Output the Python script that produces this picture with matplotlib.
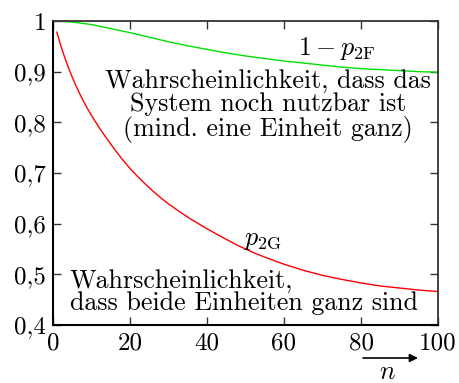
import matplotlib
matplotlib.use("Agg")
import matplotlib.pyplot as plt

plt.rcParams['font.family'] = 'serif'
plt.rcParams['font.serif'] = ['cmr10', 'DejaVu Serif']
plt.rcParams['mathtext.fontset'] = 'cm'
plt.rcParams['axes.unicode_minus'] = False
plt.rcParams['axes.formatter.use_mathtext'] = True

# Data
n_red = [1, 2, 3, 4, 5, 6, 7, 8, 9, 10, 12, 14, 16, 18, 20, 22, 24, 26, 28, 30,
         33, 36, 40, 44, 48, 52, 56, 60, 65, 70, 75, 80, 85, 90, 95, 100]
p2G = [0.978, 0.952, 0.929, 0.908, 0.889, 0.8715, 0.8555, 0.8405, 0.8265,
       0.8135, 0.7895, 0.7675, 0.7465, 0.727, 0.709, 0.693, 0.678, 0.664,
       0.651, 0.639, 0.623, 0.608, 0.590, 0.573, 0.557, 0.543, 0.531, 0.520,
       0.508, 0.498, 0.490, 0.483, 0.477, 0.473, 0.469, 0.466]

n_green = [0, 5, 10, 15, 20, 25, 30, 35, 40, 45, 50, 55, 60, 65, 70, 75, 80,
           85, 90, 95, 100]
one_minus_p2F = [1.0, 0.998, 0.993, 0.985, 0.977, 0.968, 0.959, 0.951, 0.944,
                 0.937, 0.931, 0.926, 0.921, 0.917, 0.913, 0.909, 0.906, 0.904,
                 0.902, 0.900, 0.899]

xticks = [0, 20, 40, 60, 80, 100]
xtick_labels = ['0', '20', '40', '60', '80', '100']
yticks = [0.4, 0.5, 0.6, 0.7, 0.8, 0.9, 1.0]
ytick_labels = ['0,4', '0,5', '0,6', '0,7', '0,8', '0,9', '1']

label_top = 'Wahrscheinlichkeit, dass das\nSystem noch nutzbar ist\n(mind. eine Einheit ganz)'
label_bottom = 'Wahrscheinlichkeit,\ndass beide Einheiten ganz sind'

W, H = 459, 383
fig = plt.figure(figsize=(W / 100, H / 100), dpi=100)
ax = fig.add_axes([53 / W, 1 - 325 / H, (438 - 53) / W, (325 - 21) / H])

ax.plot(n_green, one_minus_p2F, color='#00e000', lw=1.0)
ax.plot(n_red, p2G, color='#ff0000', lw=1.0)

ax.set_xlim(0, 100)
ax.set_ylim(0.4, 1.0)
ax.set_xticks(xticks)
ax.set_xticklabels(xtick_labels)
ax.set_yticks(yticks)
ax.set_yticklabels(ytick_labels)
ax.tick_params(direction='in', length=6, width=1.0, labelsize=18,
               top=True, right=True, pad=5, color='#333333')

for s in ['left', 'bottom']:
    ax.spines[s].set_linewidth(1.5)
    ax.spines[s].set_color('black')
for s in ['top', 'right']:
    ax.spines[s].set_linewidth(1.3)
    ax.spines[s].set_color('#333333')

fs = 18.7

def px(x, y):
    return (x / W, 1 - y / H)

fig.text(*px(337, 48), r'$1 - p_{\mathrm{2F}}$', fontsize=fs, ha='center', va='center')
fig.text(*px(268, 106), label_top, fontsize=fs, ha='center', va='center',
         multialignment='center', linespacing=0.97)
fig.text(*px(263, 240), r'$p_{\mathrm{2G}}$', fontsize=fs, ha='center', va='center')
fig.text(*px(70, 292), label_bottom, fontsize=fs, ha='left', va='center',
         multialignment='left', linespacing=0.95)

fig.text(*px(387, 372), r'$n$', fontsize=fs, ha='center', va='center')
ax.annotate('', xy=px(418, 358), xytext=px(363, 358),
            xycoords='figure fraction', textcoords='figure fraction',
            arrowprops=dict(arrowstyle='-|>', lw=1.2, color='black',
                            mutation_scale=12, shrinkA=0, shrinkB=0))

fig.savefig('out.png', dpi=100)
